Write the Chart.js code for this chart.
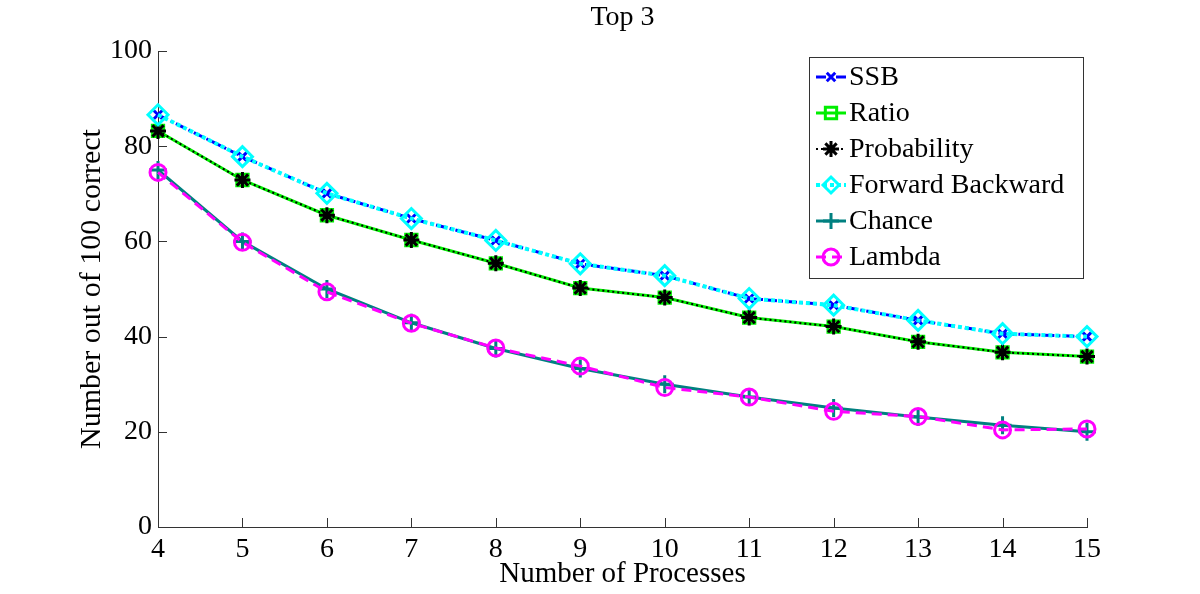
<!DOCTYPE html>
<html>
<head>
<meta charset="utf-8">
<script src="https://cdn.jsdelivr.net/npm/chart.js@4/dist/chart.umd.min.js"></script>
<style>
    body { margin: 0; background: #fff; }
    canvas { display: block; }
</style>
</head>
<body>
<canvas id="topChart" width="1200" height="594"></canvas>
<script>
// values
var processes = ['4', '5', '6', '7', '8', '9', '10', '11', '12', '13', '14', '15'];
var ssb = [86.6, 77.8, 70.1, 64.8, 60.2, 55.3, 52.8, 48.0, 46.6, 43.4, 40.6, 40.0];
var ratio = [83.2, 72.9, 65.5, 60.3, 55.4, 50.2, 48.2, 44.0, 42.1, 38.9, 36.7, 35.8];
var probability = [83.2, 72.9, 65.5, 60.3, 55.4, 50.2, 48.2, 44.0, 42.1, 38.9, 36.7, 35.8];
var forwardBackward = [86.6, 77.8, 70.1, 64.8, 60.2, 55.3, 52.8, 48.0, 46.6, 43.4, 40.6, 40.0];
var chance = [75.0, 60.0, 50.0, 42.9, 37.5, 33.3, 30.0, 27.3, 25.0, 23.1, 21.4, 20.0];
var lambda = [74.5, 59.8, 49.4, 42.8, 37.6, 33.8, 29.3, 27.3, 24.3, 23.2, 20.4, 20.6];
var yTicks = [0, 20, 40, 60, 80, 100];
var chartTitle = 'Top 3';

var serif = 'Liberation Serif';

function series(label, data, color, dash, width, style, radius, order) {
    return {
        label: label,
        data: data,
        borderColor: color,
        borderWidth: width,
        borderDash: dash,
        pointStyle: style,
        pointRadius: radius,
        pointHoverRadius: radius,
        pointBorderColor: color,
        pointBackgroundColor: 'rgba(0,0,0,0)',
        pointBorderWidth: 3,
        fill: false,
        tension: 0,
        order: order
    };
}

// title centred over the plot area (matlab puts it there)
var plotTitle = {
    id: 'plotTitle',
    afterDraw: function(chart) {
        var c = chart.ctx, a = chart.chartArea;
        c.save();
        c.fillStyle = '#000';
        c.font = '28px "' + serif + '"';
        c.textAlign = 'center';
        c.textBaseline = 'middle';
        c.fillText(chartTitle, (a.left + a.right) / 2, 18);
        c.restore();
    }
};

// ticks pointing into the plot, like the original
var innerTicks = {
    id: 'innerTicks',
    afterDatasetsDraw: function(chart) {
        var c = chart.ctx, a = chart.chartArea;
        var sx = chart.scales.x, sy = chart.scales.y;
        c.save();
        c.strokeStyle = '#333';
        c.lineWidth = 1;
        c.beginPath();
        yTicks.forEach(function(v) {
            var y = Math.round(sy.getPixelForValue(v)) + 0.5;
            c.moveTo(a.left, y);
            c.lineTo(a.left + 9, y);
        });
        processes.forEach(function(p, i) {
            var x = Math.round(sx.getPixelForValue(i)) + 0.5;
            c.moveTo(x, a.bottom);
            c.lineTo(x, a.bottom - 9);
        });
        c.stroke();
        c.restore();
    }
};

// matlab style legend box: line sample + marker + label
var boxLegend = {
    id: 'boxLegend',
    afterDraw: function(chart) {
        var c = chart.ctx, a = chart.chartArea;
        var w = 274, h = 221;
        var left = a.right - w - 4, top = a.top + 6;
        c.save();
        c.fillStyle = '#fff';
        c.fillRect(left, top, w, h);
        c.strokeStyle = '#333';
        c.lineWidth = 1;
        c.strokeRect(left + 0.5, top + 0.5, w, h);
        chart.data.datasets.forEach(function(ds, i) {
            var y = top + 20 + i * 36;
            c.save();
            c.strokeStyle = ds.borderColor;
            c.lineWidth = ds.borderWidth;
            c.setLineDash(ds.borderDash || []);
            c.beginPath();
            c.moveTo(left + 7, y);
            c.lineTo(left + 37, y);
            c.stroke();
            c.restore();
            c.save();
            c.strokeStyle = ds.pointBorderColor;
            c.fillStyle = 'rgba(0,0,0,0)';
            c.lineWidth = ds.pointBorderWidth;
            Chart.helpers.drawPoint(c, {
                pointStyle: ds.pointStyle,
                radius: Math.min(ds.pointRadius, 8),
                rotation: 0,
                borderWidth: ds.pointBorderWidth
            }, left + 22, y);
            c.restore();
            c.fillStyle = '#000';
            c.font = '28px "' + serif + '"';
            c.textBaseline = 'middle';
            c.fillText(ds.label, left + 40, y + 1);
        });
        c.restore();
    }
};

var ctx = document.getElementById('topChart').getContext('2d');
var topChart = new Chart(ctx, {
    type: 'line',
    data: {
        labels: processes,
        datasets: [
            series('SSB', ssb, '#0000ff', [10, 4, 2, 4], 3, 'crossRot', 6, 6),
            series('Ratio', ratio, '#00ee00', [], 3, 'rect', 8, 5),
            series('Probability', probability, '#000000', [2, 3], 2, 'star', 8, 4),
            series('Forward Backward', forwardBackward, '#00ffff', [4, 3], 4, 'rectRot', 10, 3),
            series('Chance', chance, '#008080', [], 3, 'cross', 9, 2),
            series('Lambda', lambda, '#ff00ff', [10, 6], 3, 'circle', 8, 1)
        ]
    },
    options: {
        responsive: false,
        animation: false,
        layout: {
            padding: { left: 0, right: 113, top: 51, bottom: 0 }
        },
        scales: {
            x: {
                type: 'category',
                offset: false,
                afterFit: function(scale) { scale.height = 67; },
                grid: { display: true, drawOnChartArea: false, drawTicks: false },
                border: { display: true, color: '#333', width: 1 },
                ticks: {
                    autoSkip: false,
                    maxRotation: 0,
                    padding: 6,
                    color: '#000',
                    font: { family: serif, size: 28 }
                },
                title: {
                    display: true,
                    text: 'Number of Processes',
                    color: '#000',
                    font: { family: serif, size: 29 },
                    padding: { top: 0, bottom: 2 }
                }
            },
            y: {
                min: 0,
                max: 100,
                afterFit: function(scale) { scale.width = 158; },
                grid: { display: true, drawOnChartArea: false, drawTicks: false },
                border: { display: true, color: '#333', width: 1 },
                ticks: {
                    stepSize: 20,
                    padding: 6,
                    color: '#000',
                    font: { family: serif, size: 28 }
                },
                title: {
                    display: true,
                    text: 'Number out of 100 correct',
                    color: '#000',
                    font: { family: serif, size: 30 },
                    padding: { top: 74, bottom: 0 }
                }
            }
        },
        plugins: {
            legend: { display: false },
            tooltip: { enabled: false },
            title: { display: false }
        }
    },
    plugins: [plotTitle, innerTicks, boxLegend]
});
</script>
</body>
</html>
